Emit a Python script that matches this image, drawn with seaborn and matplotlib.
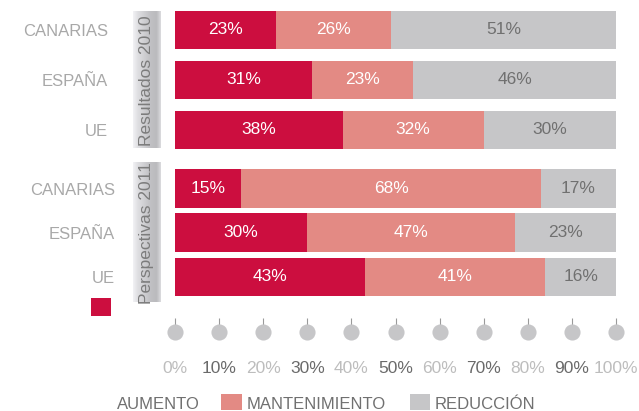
import numpy as np
import pandas as pd
import matplotlib
matplotlib.use("Agg")
import matplotlib.pyplot as plt
import seaborn as sns
from matplotlib.patches import Rectangle

# ---------------- data ----------------
categories = ["CANARIAS", "ESPAÑA", "UE"]
groups = ["Resultados 2010", "Perspectivas 2011"]
aumento_2010 = [23, 31, 38]
mantenimiento_2010 = [26, 23, 32]
reduccion_2010 = [51, 46, 30]
aumento_2011 = [15, 30, 43]
mantenimiento_2011 = [68, 47, 41]
reduccion_2011 = [17, 23, 16]
series_names = ["AUMENTO", "MANTENIMIENTO", "REDUCCIÓN"]
x_ticks = [0, 10, 20, 30, 40, 50, 60, 70, 80, 90, 100]
x_tick_labels = ["0%", "10%", "20%", "30%", "40%", "50%", "60%", "70%", "80%", "90%", "100%"]

RED = "#cc0e3f"
PINK = "#e38a84"
GRAY = "#c6c6c8"
CAT_COLOR = "#a8a8a8"
DARK_TXT = "#707070"

sns.set_style("white")
plt.rcParams["font.family"] = ["Liberation Sans", "DejaVu Sans"]

W, H = 639, 411
fig = plt.figure(figsize=(W / 100, H / 100), dpi=100)


def fx(px):
    return px / W


def fy(py):
    return 1 - py / H


# overlay in pixel coordinates for decorations
ov = fig.add_axes([0, 0, 1, 1], zorder=0)
ov.axis("off")

# group boxes with gradient
grad_pos = np.linspace(0, 1, 64)
prof = np.interp(grad_pos, [0, 0.15, 0.6, 0.85, 1], [0.95, 0.88, 0.76, 0.73, 0.86])
img = np.zeros((2, 64, 3))
img[..., 0] = prof
img[..., 1] = prof
img[..., 2] = np.clip(prof + 0.012, 0, 1)
box_specs = [(12, 148), (163, 302)]
for (y0, y1), label in zip(box_specs, groups):
    ov.imshow(img, extent=(133, 161, y1, y0), aspect="auto", interpolation="bilinear")
    ov.text(146.5, (y0 + y1) / 2 + 1, label, rotation=90, ha="center", va="center",
            fontsize=12.5, color="#7c7c7c")

# detached AUMENTO swatch
ov.add_patch(Rectangle((91, 298), 20, 18, color=RED, lw=0))
# legend
ov.text(117, 404, series_names[0], ha="left", va="center", fontsize=12, color=DARK_TXT)
ov.add_patch(Rectangle((221, 394), 21, 16, color=PINK, lw=0))
ov.text(247, 404, series_names[1], ha="left", va="center", fontsize=12, color=DARK_TXT)
ov.add_patch(Rectangle((410, 394), 20, 16, color=GRAY, lw=0))
ov.text(435, 404, series_names[2], ha="left", va="center", fontsize=12, color=DARK_TXT)
ov.set_xlim(0, W)
ov.set_ylim(H, 0)


def draw_group(top_px, bot_px, aum, man, red, width, pad):
    ax = fig.add_axes([fx(175), fy(bot_px), fx(441), (bot_px - top_px) / H], zorder=2)
    ax.patch.set_alpha(0)
    df = pd.DataFrame({"cat": categories, "a": aum, "m": man, "r": red})
    df["am"] = df["a"] + df["m"]
    df["tot"] = df["am"] + df["r"]
    for col, c in [("tot", GRAY), ("am", PINK), ("a", RED)]:
        sns.barplot(data=df, x=col, y="cat", orient="h", color=c, width=width,
                    saturation=1, linewidth=0, ax=ax, errorbar=None)
    for i, row in df.iterrows():
        ax.text(row["a"] / 2, i, f"{row['a']}%", ha="center", va="center",
                fontsize=12.5, color="white")
        ax.text(row["a"] + row["m"] / 2, i, f"{row['m']}%", ha="center", va="center",
                fontsize=12.5, color="white")
        ax.text(row["am"] + row["r"] / 2, i, f"{row['r']}%", ha="center", va="center",
                fontsize=12.5, color=DARK_TXT)
    ax.set_xlim(0, 100)
    ax.set_ylim(2.5, -0.5)
    ax.set_xlabel("")
    ax.set_ylabel("")
    ax.set_xticks([])
    ax.set_yticks(range(len(categories)))
    ax.set_yticklabels(categories)
    ax.tick_params(axis="y", length=0, pad=pad, labelsize=12, labelcolor=CAT_COLOR)
    for s in ax.spines.values():
        s.set_visible(False)
    return ax


draw_group(5, 155, aumento_2010, mantenimiento_2010, reduccion_2010, 0.76, 48)
draw_group(166.4, 299.1, aumento_2011, mantenimiento_2011, reduccion_2011, 0.88, 43)

# scale axis with circle ticks
ax3 = fig.add_axes([fx(175), fy(346), fx(441), 28 / H], zorder=2)
ax3.patch.set_alpha(0)
ax3.set_xlim(0, 100)
ax3.set_ylim(-1, 1)
ax3.vlines(x_ticks, 0.5, 1.0, color="#9a9a9a", lw=0.8, clip_on=False)
sns.scatterplot(x=x_ticks, y=[0] * len(x_ticks), s=135, color=GRAY, linewidth=0,
                ax=ax3, legend=False, clip_on=False, zorder=3)
ax3.set_xticks(x_ticks)
ax3.set_xticklabels(x_tick_labels)
ax3.set_yticks([])
ax3.tick_params(axis="x", length=0, pad=11, labelsize=12.5)
for i, t in enumerate(ax3.get_xticklabels()):
    t.set_color("#bdbdbd" if i % 2 == 0 else "#6a6a6a")
for s in ax3.spines.values():
    s.set_visible(False)

fig.savefig("out.png", dpi=100)
